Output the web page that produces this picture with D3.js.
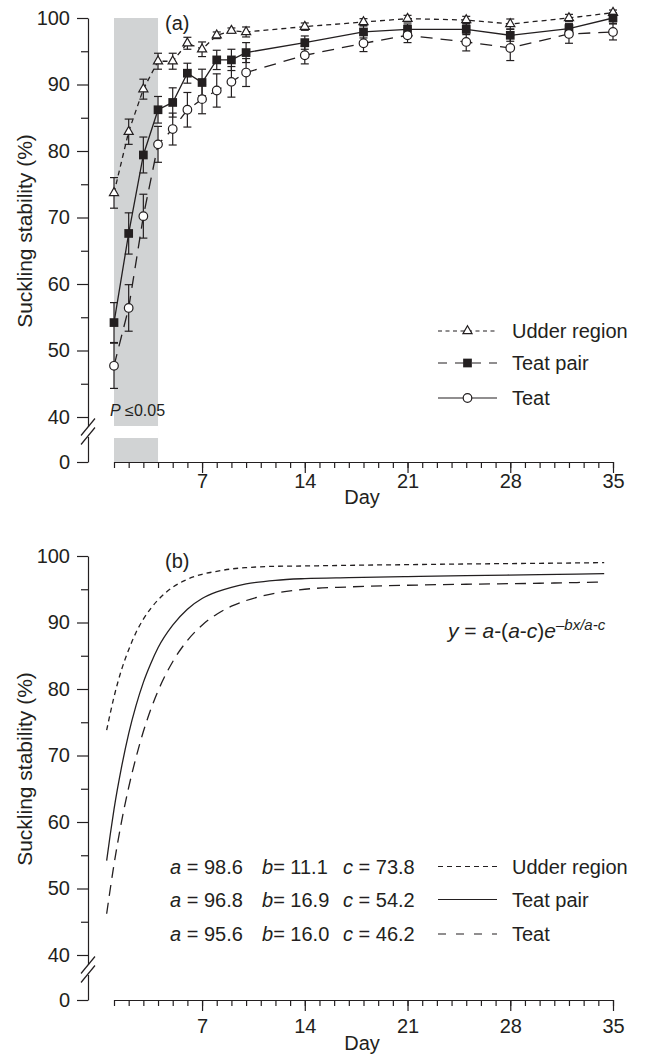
<!DOCTYPE html>
<html lang="en">
<head>
<meta charset="UTF-8">
<title>Suckling stability</title>
<script src="https://cdn.jsdelivr.net/npm/d3@7"></script>
<style>
  body { margin: 0; background: #fff; }
  svg { display: block; font-family: "Liberation Sans", Arial, Helvetica, sans-serif; }
  text { white-space: pre; }
</style>
</head>
<body>
<svg width="645" height="1057" id="mainsvg"></svg>
<script>
// ---- panel (a): observed means with SE ----
const days = [1, 2, 3, 4, 5, 6, 7, 8, 9, 10, 14, 18, 21, 25, 28, 32, 35];
const udder = [73.7, 82.9, 89.3, 93.5, 93.5, 96.2, 95.3, 97.4, 98.1, 97.9, 98.7, 99.4, 99.9, 99.7, 99.1, 100.0, 100.8];
const udderSE = [2.3, 1.9, 1.5, 1.2, 1.2, 0.9, 1.1, 0.5, 0.4, 0.75, 0.55, 0.5, 0.5, 0.55, 0.75, 0.55, 0.4];
const pair = [54.2, 67.6, 79.4, 86.2, 87.3, 91.7, 90.3, 93.7, 93.7, 94.8, 96.3, 97.9, 98.3, 98.3, 97.4, 98.4, 100.0];
const pairSE = [3.0, 3.1, 2.7, 2.0, 2.2, 1.5, 2.0, 1.45, 1.6, 1.5, 1.0, 0.9, 0.8, 0.8, 0.9, 0.75, 0.8];
const teat = [47.7, 56.4, 70.2, 81.0, 83.3, 86.2, 87.8, 89.1, 90.4, 91.8, 94.4, 96.2, 97.4, 96.4, 95.5, 97.6, 97.9];
const teatSE = [3.4, 3.5, 3.3, 2.7, 2.4, 2.6, 2.2, 2.5, 2.3, 2.1, 1.3, 1.25, 1.1, 1.35, 1.9, 1.4, 1.2];
const sigDays = [1, 4];

// ---- panel (b): fitted curves ----
const curveDays = [0.5, 0.75, 1, 1.5, 2, 2.5, 3, 3.5, 4, 5, 6, 7, 8, 9, 10, 12, 14, 17, 21, 25, 30, 34.4];
const udderFit = [73.8, 76.4, 78.8, 82.8, 85.9, 88.5, 90.5, 92.1, 93.4, 95.3, 96.5, 97.25, 97.7, 98.05, 98.25, 98.45, 98.5, 98.6, 98.7, 98.8, 98.9, 99.0];
const pairFit = [54.2, 58.2, 61.9, 68.1, 73.3, 77.5, 81.0, 83.8, 86.2, 89.6, 92.0, 93.6, 94.6, 95.3, 95.8, 96.35, 96.6, 96.75, 96.9, 97.05, 97.2, 97.35];
const teatFit = [46.2, 50.0, 53.6, 59.9, 65.2, 69.7, 73.6, 76.9, 79.7, 84.1, 87.3, 89.6, 91.25, 92.45, 93.3, 94.4, 95.0, 95.35, 95.6, 95.75, 95.9, 96.1];
const paramA = [98.6, 96.8, 95.6];
const paramB = [11.1, 16.9, 16.0];
const paramC = [73.8, 54.2, 46.2];

const seriesNames = ['Udder region', 'Teat pair', 'Teat'];
const yMajorTicks = [0, 40, 50, 60, 70, 80, 90, 100];
const yMinorTicks = [45, 55, 65, 75, 85, 95];
const xMajorTicks = [7, 14, 21, 28, 35];

const svg = d3.select('#mainsvg');
const ink = '#231f20';
const shortDash = '5,4';
const longDash = '11,7';

const x = d3.scaleLinear().domain([1, 35]).range([114, 613]);

// draws both axes, the axis break and the labels of one panel
function frame(top, tag, labelY, dayY) {
    const y = d3.scaleLinear().domain([0, 40, 100]).range([462 + top, 417 + top, 18 + top]);
    const g = svg.append('g');

    g.append('g').attr('transform', 'translate(88,0)')
        .call(d3.axisLeft(y).tickValues(yMajorTicks).tickSize(11).tickSizeOuter(0).tickPadding(7));
    g.append('g').attr('transform', 'translate(88,0)')
        .call(d3.axisLeft(y).tickValues(yMinorTicks).tickSize(7).tickFormat(''))
        .select('.domain').remove();
    // axis break
    g.append('rect').attr('x', 84).attr('y', top + 427).attr('width', 8).attr('height', 10).attr('fill', '#fff');
    [427, 436].forEach(function(b) {
        g.append('line')
            .attr('x1', 81).attr('y1', top + b + 8.5)
            .attr('x2', 95).attr('y2', top + b - 8.5)
            .attr('stroke', ink).attr('stroke-width', 1.2);
    });

    const xa = g.append('g').attr('transform', `translate(0,${462 + top})`);
    xa.append('g').call(d3.axisBottom(x).tickValues(d3.range(1, 36)).tickSize(6).tickSizeOuter(0).tickFormat(''));
    const xm = xa.append('g').call(d3.axisBottom(x).tickValues(xMajorTicks).tickSize(11));
    xm.select('.domain').remove();
    xm.selectAll('text').attr('y', labelY).attr('dy', null);

    g.selectAll('.domain, .tick line').attr('stroke', ink).attr('stroke-width', 1.2);
    g.selectAll('.tick text').attr('fill', ink).attr('font-size', 20)
        .attr('font-family', '"Liberation Sans", Arial, sans-serif');

    g.append('text').attr('x', 362).attr('y', 462 + top + dayY)
        .attr('text-anchor', 'middle').attr('font-size', 20).attr('fill', ink).text('Day');
    g.append('text').attr('transform', `translate(32,${top + 231}) rotate(-90)`)
        .attr('text-anchor', 'middle').attr('font-size', 21).attr('fill', ink)
        .text('Suckling stability (%)');
    g.append('text').attr('x', 165).attr('y', top + 30)
        .attr('font-size', 20).attr('fill', ink).text(tag);
    return y;
}

// ================= panel (a) =================
const ya = d3.scaleLinear().domain([0, 40, 100]).range([462, 417, 18]);
const band = svg.append('g');
band.append('rect')
    .attr('x', x(sigDays[0])).attr('width', x(sigDays[1]) - x(sigDays[0]))
    .attr('y', ya(100)).attr('height', ya(0) - ya(100))
    .attr('fill', '#d1d3d4');
band.append('rect')
    .attr('x', x(sigDays[0])).attr('width', x(sigDays[1]) - x(sigDays[0]))
    .attr('y', 426).attr('height', 12).attr('fill', '#fff');
frame(0, '(a)', 26, 42);

const pText = svg.append('text').attr('x', 110).attr('y', 416).attr('font-size', 16).attr('fill', ink);
pText.append('tspan').attr('font-style', 'italic').text('P');
pText.append('tspan').text(' \u22640.05');

const seriesA = [
    { v: udder, se: udderSE, dash: shortDash, mark: 'tri' },
    { v: pair, se: pairSE, dash: null, mark: 'sq' },
    { v: teat, se: teatSE, dash: '12,8', mark: 'circ' }
];

const lineA = d3.line().x(function(d) { return x(d[0]); }).y(function(d) { return ya(d[1]); });

function marker(sel, kind) {
    if (kind === 'circ') {
        sel.append('circle').attr('r', 4.3).attr('fill', '#fff').attr('stroke', ink).attr('stroke-width', 1.2);
    } else if (kind === 'sq') {
        sel.append('path').attr('d', d3.symbol(d3.symbolSquare, 76)()).attr('fill', ink);
    } else {
        sel.append('path').attr('d', d3.symbol(d3.symbolTriangle, 36)()).attr('fill', '#fff')
            .attr('stroke', ink).attr('stroke-width', 1.2);
    }
}

seriesA.forEach(function(s) {
    const pts = days.map(function(d, i) { return [d, s.v[i]]; });
    svg.append('path').attr('d', lineA(pts)).attr('fill', 'none')
        .attr('stroke', ink).attr('stroke-width', 1.3)
        .attr('stroke-dasharray', s.dash);
});
seriesA.forEach(function(s) {
    const eb = svg.append('g').attr('stroke', ink).attr('stroke-width', 1.2);
    days.forEach(function(d, i) {
        const lo = ya(s.v[i] - s.se[i]), hi = ya(s.v[i] + s.se[i]), cx = x(d);
        eb.append('line').attr('x1', cx).attr('x2', cx).attr('y1', lo).attr('y2', hi);
        eb.append('line').attr('x1', cx - 4).attr('x2', cx + 4).attr('y1', lo).attr('y2', lo);
        eb.append('line').attr('x1', cx - 4).attr('x2', cx + 4).attr('y1', hi).attr('y2', hi);
    });
});
seriesA.forEach(function(s) {
    days.forEach(function(d, i) {
        const m = svg.append('g').attr('transform', `translate(${x(d)},${ya(s.v[i])})`);
        marker(m, s.mark);
    });
});

// legend (a), kept as printed in the original
const legA = [
    { dash: '4,3.5', mark: 'tri' },
    { dash: '9,8', mark: 'sq' },
    { dash: null, mark: 'circ' }
];
[331, 363, 398].forEach(function(ly, i) {
    svg.append('line').attr('x1', 438).attr('x2', 497).attr('y1', ly).attr('y2', ly)
        .attr('stroke', ink).attr('stroke-width', 1.2).attr('stroke-dasharray', legA[i].dash);
    const m = svg.append('g').attr('transform', `translate(467.5,${ly})`);
    marker(m, legA[i].mark);
    svg.append('text').attr('x', 512).attr('y', ly + 7).attr('font-size', 20).attr('fill', ink)
        .text(seriesNames[i]);
});

// ================= panel (b) =================
const topB = 538;
const yb = frame(topB, '(b)', 33, 50);
const lineB = d3.line().x(function(d) { return x(d[0]); }).y(function(d) { return yb(d[1]); })
    .curve(d3.curveMonotoneX);
const fits = [
    { v: udderFit, dash: shortDash },
    { v: pairFit, dash: null },
    { v: teatFit, dash: longDash }
];
fits.forEach(function(f) {
    const pts = curveDays.map(function(d, i) { return [d, f.v[i]]; });
    svg.append('path').attr('d', lineB(pts)).attr('fill', 'none')
        .attr('stroke', ink).attr('stroke-width', 1.3).attr('stroke-dasharray', f.dash);
});

const eq = svg.append('text').attr('x', 448).attr('y', 638).attr('font-size', 21).attr('fill', ink);
eq.append('tspan').attr('font-style', 'italic').text('y');
eq.append('tspan').text(' = ');
eq.append('tspan').attr('font-style', 'italic').text('a');
eq.append('tspan').text('-(');
eq.append('tspan').attr('font-style', 'italic').text('a');
eq.append('tspan').text('-');
eq.append('tspan').attr('font-style', 'italic').text('c');
eq.append('tspan').text(')');
eq.append('tspan').attr('font-style', 'italic').text('e');
eq.append('tspan').attr('font-style', 'italic').attr('font-size', 15).attr('dy', -8).text('\u2013bx/a-c');

const legB = [shortDash, null, '8,10'];
[866.5, 899.5, 934].forEach(function(ly, i) {
    const t1 = svg.append('text').attr('x', 170).attr('y', ly + 7).attr('font-size', 20).attr('fill', ink);
    t1.append('tspan').attr('font-style', 'italic').text('a');
    t1.append('tspan').text(' = ' + paramA[i].toFixed(1));
    const t2 = svg.append('text').attr('x', 262).attr('y', ly + 7).attr('font-size', 20).attr('fill', ink);
    t2.append('tspan').attr('font-style', 'italic').text('b');
    t2.append('tspan').text('= ' + paramB[i].toFixed(1));
    const t3 = svg.append('text').attr('x', 343).attr('y', ly + 7).attr('font-size', 20).attr('fill', ink);
    t3.append('tspan').attr('font-style', 'italic').text('c');
    t3.append('tspan').text(' = ' + paramC[i].toFixed(1));
    svg.append('line').attr('x1', 438).attr('x2', 497).attr('y1', ly).attr('y2', ly)
        .attr('stroke', ink).attr('stroke-width', 1.2).attr('stroke-dasharray', legB[i]);
    svg.append('text').attr('x', 512).attr('y', ly + 7).attr('font-size', 20).attr('fill', ink)
        .text(seriesNames[i]);
});
</script>
</body>
</html>
